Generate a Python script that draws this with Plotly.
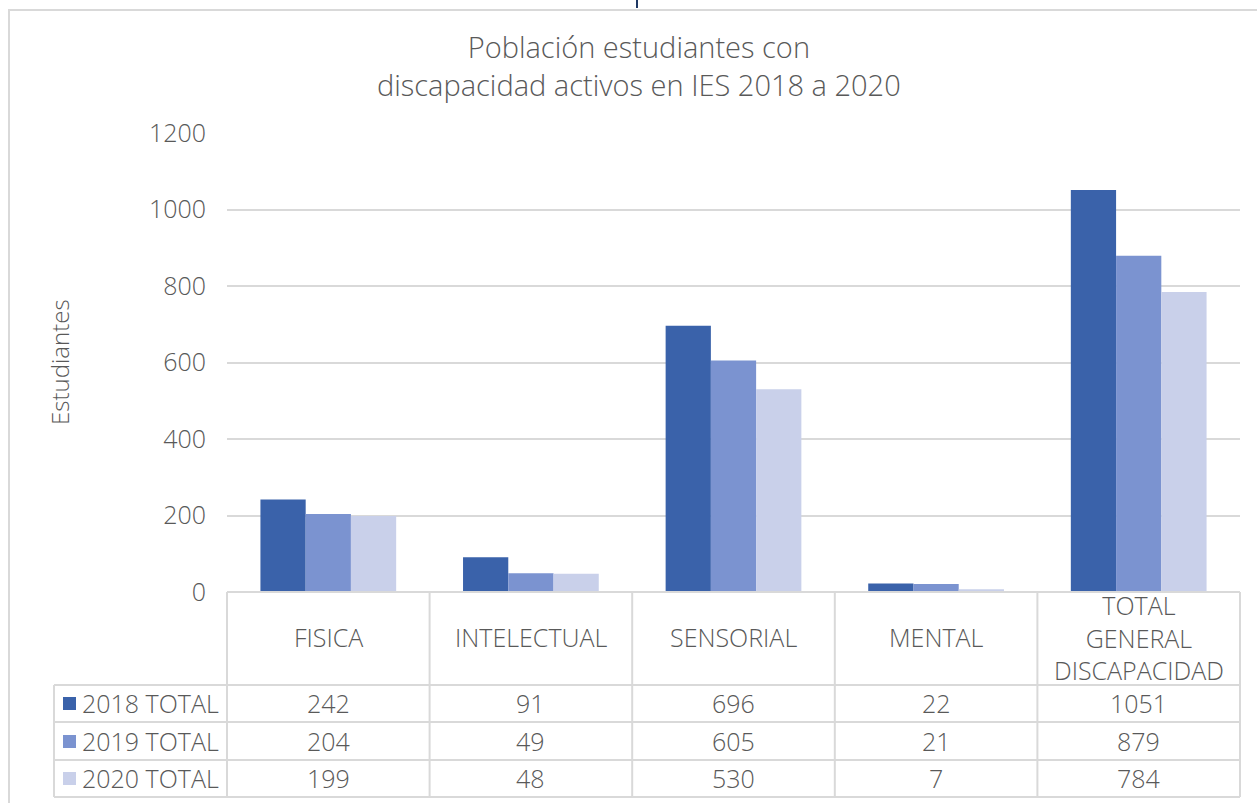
import plotly.graph_objects as go

categories = ["FISICA", "INTELECTUAL", "SENSORIAL", "MENTAL", "TOTAL GENERAL DISCAPACIDAD"]
cat_labels = ["FISICA", "INTELECTUAL", "SENSORIAL", "MENTAL", "TOTAL<br>GENERAL<br>DISCAPACIDAD"]
series_names = ["2018 TOTAL", "2019 TOTAL", "2020 TOTAL"]
v2018 = [242, 91, 696, 22, 1051]
v2019 = [204, 49, 605, 21, 879]
v2020 = [199, 48, 530, 7, 784]
colors = ["#3A62AA", "#7B93D0", "#C9D0EA"]
y_ticks = [0, 200, 400, 600, 800, 1000, 1200]
title_text = "Población estudiantes con<br>discapacidad activos en IES 2018 a 2020"
y_title = "Estudiantes"

W, H = 1257, 803
L, R, T, B = 227, 1240, 133, 592
FONT = "Open Sans"
WT = 300
GRAY = "#595959"
LINE = "#D9D9D9"


def px(x):
    return (x - L) / (R - L)


def py(y):
    return (B - y) / (B - T)


def f(size):
    return dict(family=FONT, size=size, color=GRAY, weight=WT)


fig = go.Figure()
all_vals = [v2018, v2019, v2020]
for name, vals, c in zip(series_names, all_vals, colors):
    fig.add_trace(go.Bar(x=categories, y=vals, name=name, marker=dict(color=c, line=dict(width=0)),
                         showlegend=False))

shapes = []
shapes.append(dict(type="rect", xref="paper", yref="paper", x0=px(9), x1=px(1300), y0=py(850), y1=py(10),
                   line=dict(color=LINE, width=2), layer="below"))
shapes.append(dict(type="line", xref="paper", yref="paper", x0=px(637), x1=px(637), y0=py(8), y1=py(0),
                   line=dict(color="#1F3864", width=2)))
row_lines = [592, 685, 722, 760, 797]
for i, yy in enumerate(row_lines):
    x0 = L if i == 0 else 54
    shapes.append(dict(type="line", xref="paper", yref="paper", x0=px(x0), x1=px(R), y0=py(yy), y1=py(yy),
                       line=dict(color=LINE, width=2)))
ncat = len(categories)
colw = (R - L) / ncat
for k in range(ncat + 1):
    xx = L + k * colw
    shapes.append(dict(type="line", xref="paper", yref="paper", x0=px(xx), x1=px(xx), y0=py(592), y1=py(797),
                       line=dict(color=LINE, width=2)))
shapes.append(dict(type="line", xref="paper", yref="paper", x0=px(54), x1=px(54), y0=py(685), y1=py(797),
                   line=dict(color=LINE, width=2)))

annotations = []
# title
annotations.append(dict(xref="paper", yref="paper", x=px(639), y=py(65.5), text=title_text, showarrow=False,
                        xanchor="center", yanchor="middle", font=f(29)))
# y-axis title
annotations.append(dict(xref="paper", yref="paper", x=px(59), y=py(362), text=y_title, textangle=-90,
                        showarrow=False, xanchor="center", yanchor="middle", font=f(24)))
# header labels
for k, lab in enumerate(cat_labels):
    annotations.append(dict(xref="paper", yref="paper", x=px(L + (k + 0.5) * colw), y=py(637),
                            text=lab, showarrow=False, xanchor="center", yanchor="middle", font=f(25)))
row_centers = [703, 741, 778]
for r, (name, vals, c) in enumerate(zip(series_names, all_vals, colors)):
    yc = row_centers[r]
    shapes.append(dict(type="rect", xref="paper", yref="paper", x0=px(63), x1=px(76), y0=py(yc + 7),
                       y1=py(yc - 6), fillcolor=c, line=dict(width=0)))
    annotations.append(dict(xref="paper", yref="paper", x=px(80), y=py(yc), text=name, showarrow=False,
                            xanchor="left", yanchor="middle", font=f(25)))
    for k, v in enumerate(vals):
        annotations.append(dict(xref="paper", yref="paper", x=px(L + (k + 0.5) * colw), y=py(yc),
                                text=str(v), showarrow=False, xanchor="center", yanchor="middle", font=f(25)))

fig.update_layout(
    width=W, height=H,
    margin=dict(l=L, r=W - R, t=T, b=H - B, autoexpand=False),
    paper_bgcolor="white", plot_bgcolor="white",
    barmode="group", bargap=0.33, bargroupgap=0,
    xaxis=dict(showticklabels=False, showgrid=False, zeroline=False, showline=False, ticks="",
               range=[-0.5, 4.5]),
    yaxis=dict(range=[0, 1200], tickvals=y_ticks, showgrid=True, gridcolor=LINE, gridwidth=1.5,
               zeroline=False, showline=False, ticks="", ticklabelstandoff=20,
               tickfont=f(25)),
    shapes=shapes, annotations=annotations,
    font=dict(family=FONT, color=GRAY),
)

fig.write_html("out.html", config={"displayModeBar": False},
               post_script="document.body.style.margin='0';")
